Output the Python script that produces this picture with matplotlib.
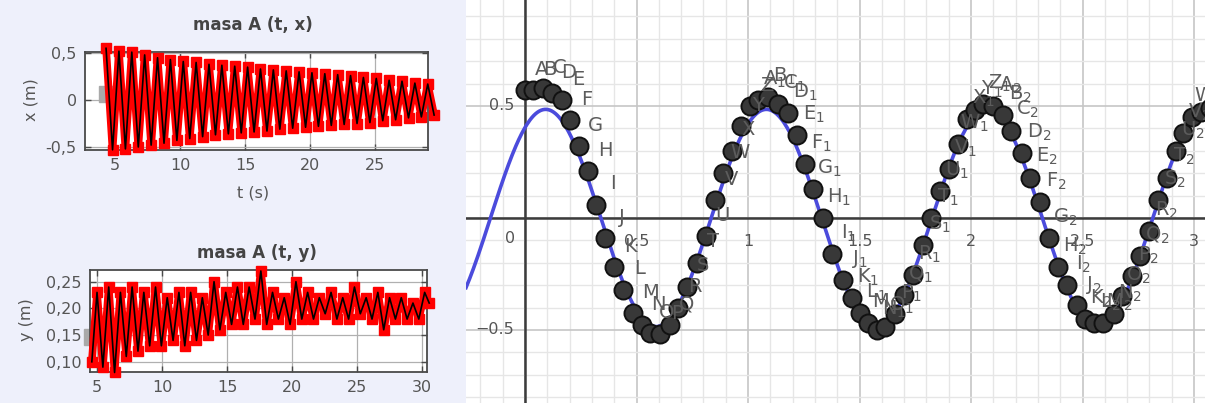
import matplotlib
matplotlib.use("Agg")
import matplotlib.pyplot as plt
import numpy as np
from matplotlib.ticker import MultipleLocator

# ---------------- data: masa A (t, x) : successive extrema ----------------
x_peak_t = [4.31, 5.30, 6.29, 7.28, 8.27, 9.26, 10.25, 11.24, 12.23, 13.22, 14.21, 15.20, 16.19,
            17.18, 18.17, 19.16, 20.15, 21.14, 22.13, 23.12, 24.11, 25.10, 26.09, 27.08, 28.07, 29.06]
x_peak_v = [0.55, 0.52, 0.51, 0.48, 0.45, 0.43, 0.41, 0.40, 0.38, 0.37, 0.36, 0.35, 0.33,
            0.32, 0.31, 0.30, 0.29, 0.28, 0.27, 0.26, 0.24, 0.23, 0.21, 0.20, 0.18, 0.17]
x_trough_t = [4.81, 5.80, 6.79, 7.78, 8.77, 9.76, 10.75, 11.74, 12.73, 13.72, 14.71, 15.70, 16.69,
              17.68, 18.67, 19.66, 20.65, 21.64, 22.63, 23.62, 24.61, 25.60, 26.59, 27.58, 28.57, 29.55]
x_trough_v = [-0.53, -0.52, -0.50, -0.48, -0.46, -0.43, -0.41, -0.39, -0.37, -0.36, -0.35, -0.34, -0.33,
              -0.31, -0.30, -0.29, -0.28, -0.27, -0.26, -0.25, -0.24, -0.22, -0.21, -0.19, -0.18, -0.16]
x_start_marker = (4.42, 0.064)

# ---------------- data: masa A (t, y) ----------------
y_t = [4.6, 5.0, 5.45, 5.9, 6.35, 6.8, 7.25, 7.7, 8.15, 8.6, 9.05, 9.5, 9.95, 10.4, 10.85, 11.3,
       11.75, 12.2, 12.65, 13.1, 13.55, 14.0, 14.45, 14.9, 15.35, 15.8, 16.25, 16.7, 17.15, 17.6,
       18.05, 18.5, 18.95, 19.4, 19.85, 20.3, 20.75, 21.2, 21.65, 22.1, 22.55, 23.0, 23.45, 23.9,
       24.35, 24.8, 25.25, 25.7, 26.15, 26.6, 27.05, 27.5, 27.95, 28.4, 28.85, 29.3, 29.75, 30.2, 30.55]
y_v = [0.10, 0.23, 0.09, 0.24, 0.08, 0.23, 0.11, 0.24, 0.12, 0.23, 0.13, 0.24, 0.13, 0.22, 0.14, 0.23,
       0.13, 0.23, 0.14, 0.22, 0.15, 0.25, 0.16, 0.23, 0.17, 0.24, 0.17, 0.24, 0.18, 0.27,
       0.17, 0.23, 0.18, 0.22, 0.17, 0.25, 0.18, 0.23, 0.18, 0.22, 0.19, 0.23, 0.18, 0.22,
       0.18, 0.24, 0.19, 0.22, 0.18, 0.23, 0.16, 0.22, 0.18, 0.22, 0.18, 0.21, 0.18, 0.23, 0.21]
y_start_marker = (4.65, 0.147)

top_xticks = [5, 10, 15, 20, 25]
top_yticks = [-0.5, 0, 0.5]
top_yticklabels = ["-0,5", "0", "0,5"]
bot_xticks = [5, 10, 15, 20, 25, 30]
bot_yticks = [0.10, 0.15, 0.20, 0.25]
bot_yticklabels = ["0,10", "0,15", "0,20", "0,25"]

# ---------------- data: GeoGebra panel ----------------
dot_x = [0.0, 0.036, 0.081, 0.121, 0.166, 0.202, 0.24, 0.284, 0.32, 0.36, 0.40, 0.44, 0.486, 0.523,
         0.56, 0.605, 0.65, 0.688, 0.725, 0.77, 0.81, 0.85, 0.89, 0.927, 0.97, 1.01, 1.046, 1.09,
         1.136, 1.18, 1.22, 1.256, 1.29, 1.335, 1.375, 1.427, 1.465, 1.50, 1.54, 1.58, 1.614,
         1.66, 1.70, 1.74, 1.786, 1.82, 1.86, 1.90, 1.94, 1.98, 2.02, 2.055, 2.10, 2.145, 2.18,
         2.23, 2.265, 2.31, 2.35, 2.39, 2.43, 2.475, 2.51, 2.55, 2.59, 2.64, 2.675, 2.72, 2.76,
         2.80, 2.84, 2.88, 2.92, 2.95, 2.99, 3.03, 3.07]
dot_y = [0.571, 0.571, 0.58, 0.558, 0.527, 0.438, 0.32, 0.21, 0.06, -0.09, -0.22, -0.32, -0.425, -0.477,
         -0.515, -0.518, -0.477, -0.40, -0.307, -0.20, -0.08, 0.08, 0.20, 0.30, 0.41, 0.50, 0.527, 0.54,
         0.51, 0.47, 0.37, 0.24, 0.13, 0.00, -0.16, -0.277, -0.358, -0.425, -0.47, -0.50, -0.485,
         -0.43, -0.344, -0.254, -0.12, 0.0, 0.12, 0.22, 0.33, 0.44, 0.48, 0.51, 0.50, 0.46, 0.39,
         0.29, 0.18, 0.07, -0.09, -0.22, -0.30, -0.39, -0.45, -0.47, -0.47, -0.43, -0.35, -0.26, -0.17,
         -0.06, 0.08, 0.18, 0.30, 0.38, 0.45, 0.475, 0.49]
letters = list("ABCDEFGHIJKLMNOPQRSTUVWXYZ")
# fitted sine shown in blue (parameters)
fit_amplitude = 0.485
fit_period = 0.99
fit_zero = -0.155
gg_xticks = [0.5, 1, 1.5, 2, 2.5, 3]
gg_xticklabels = ["0.5", "1", "1.5", "2", "2.5", "3"]
gg_yticks = [0.5, -0.5]
gg_yticklabels = ["0.5", "\u22120.5"]

# ---------------- figure ----------------
W, H = 1205, 403
fig = plt.figure(figsize=(W / 100, H / 100), dpi=100)
fig.patch.set_facecolor("#eef0fb")


def px_axes(x0, y0, x1, y1):
    return fig.add_axes([x0 / W, 1 - y1 / H, (x1 - x0) / W, (y1 - y0) / H])


def style_small(ax):
    ax.set_facecolor("white")
    for s in ax.spines.values():
        s.set_color("#4a4a4a")
        s.set_linewidth(1.3)
    ax.tick_params(direction="in", length=4, width=1, color="#4a4a4a",
                   top=True, right=True, labelsize=11.5, labelcolor="#555555", pad=6)
    ax.grid(True, color="#b0b0b0", lw=0.9)
    ax.set_axisbelow(True)


# --- top-left ---
ax1 = px_axes(85, 52, 428, 150)
style_small(ax1)
ax1.set_xlim(2.69, 29.08)
ax1.set_ylim(-0.532, 0.511)
ax1.set_xticks(top_xticks)
ax1.set_yticks(top_yticks)
ax1.set_yticklabels(top_yticklabels)
tx, vx = [], []
for i in range(len(x_peak_t)):
    tx += [x_peak_t[i], x_trough_t[i]]
    vx += [x_peak_v[i], x_trough_v[i]]
ax1.plot([x_start_marker[0]], [x_start_marker[1]], "s", ms=11, color="#a9a9a9",
         clip_on=False, zorder=2)
ax1.plot(tx, vx, color="red", lw=5.5, marker="s", ms=7, solid_joinstyle="round",
         clip_on=False, zorder=3)
ax1.plot(tx, vx, color="black", lw=1.2, solid_joinstyle="round", clip_on=False, zorder=4)
fig.text(253 / W, 1 - 25 / H, "masa A (t, x)", ha="center", va="center",
         fontsize=12, fontweight="bold", color="#444444")
fig.text(253 / W, 1 - 193 / H, "t (s)", ha="center", va="center", fontsize=11.5, color="#555555")
fig.text(31 / W, 1 - 100 / H, "x (m)", ha="center", va="center", rotation=90,
         fontsize=11.5, color="#555555")

# --- bottom-left ---
ax2 = px_axes(90, 270, 427, 372)
style_small(ax2)
ax2.set_xlim(4.46, 30.38)
ax2.set_ylim(0.0809, 0.2719)
ax2.set_xticks(bot_xticks)
ax2.set_yticks(bot_yticks)
ax2.set_yticklabels(bot_yticklabels)
ax2.plot([y_start_marker[0]], [y_start_marker[1]], "s", ms=11, color="#a9a9a9",
         clip_on=False, zorder=2)
ax2.plot(y_t, y_v, color="red", lw=5.5, marker="s", ms=7, solid_joinstyle="round",
         clip_on=False, zorder=3)
ax2.plot(y_t, y_v, color="black", lw=1.2, solid_joinstyle="round", clip_on=False, zorder=4)
fig.text(257 / W, 1 - 253 / H, "masa A (t, y)", ha="center", va="center",
         fontsize=12, fontweight="bold", color="#444444")
fig.text(27 / W, 1 - 320 / H, "y (m)", ha="center", va="center", rotation=90,
         fontsize=11.5, color="#555555")

# --- right GeoGebra panel ---
ax3 = px_axes(466, 0, 1205, 403)
ax3.set_facecolor("white")
ax3.set_xlim(-0.2646, 3.0493)
ax3.set_ylim(-0.8259, 0.9732)
for s in ax3.spines.values():
    s.set_visible(False)
ax3.xaxis.set_major_locator(MultipleLocator(0.5))
ax3.xaxis.set_minor_locator(MultipleLocator(0.1))
ax3.yaxis.set_major_locator(MultipleLocator(0.5))
ax3.yaxis.set_minor_locator(MultipleLocator(0.1))
ax3.grid(True, which="major", color="#c6c6c6", lw=1.2)
ax3.grid(True, which="minor", color="#e6e6e6", lw=1.0)
ax3.tick_params(which="both", length=0, labelbottom=False, labelleft=False)
ax3.set_axisbelow(True)
ax3.axhline(0, color="#3c3c3c", lw=1.8, zorder=1)
ax3.axvline(0, color="#3c3c3c", lw=1.8, zorder=1)

for v, lab in zip(gg_xticks, gg_xticklabels):
    ax3.annotate(lab, (v, 0), xytext=(0, -17), textcoords="offset points",
                 ha="center", va="center", fontsize=11.5, color="#555555", zorder=2)
ax3.annotate("0", (0, 0), xytext=(-11, -15), textcoords="offset points",
             ha="center", va="center", fontsize=11.5, color="#555555", zorder=2)
for v, lab in zip(gg_yticks, gg_yticklabels):
    ax3.annotate(lab, (0, v), xytext=(-8, 0), textcoords="offset points",
                 ha="right", va="center", fontsize=11.5, color="#555555", zorder=2)

xs = np.linspace(-0.2646, 3.0493, 800)
ax3.plot(xs, fit_amplitude * np.sin(2 * np.pi * (xs - fit_zero) / fit_period),
         color="#4b4bdc", lw=2.6, zorder=3)
ax3.plot(dot_x, dot_y, "o", ms=13, mfc="#383838", mec="#111111", mew=1.4,
         zorder=5, clip_on=False)
for i, (px, py) in enumerate(zip(dot_x, dot_y)):
    name = letters[i % 26]
    if i >= 26:
        name = name + "$_{%d}$" % (i // 26)
    ax3.annotate(name, (px, py), xytext=(12, 15), textcoords="offset points",
                 ha="center", va="center", fontsize=14, color="#5c5c5c", zorder=6,
                 annotation_clip=False)

fig.savefig("out.png", dpi=100, facecolor=fig.get_facecolor())
